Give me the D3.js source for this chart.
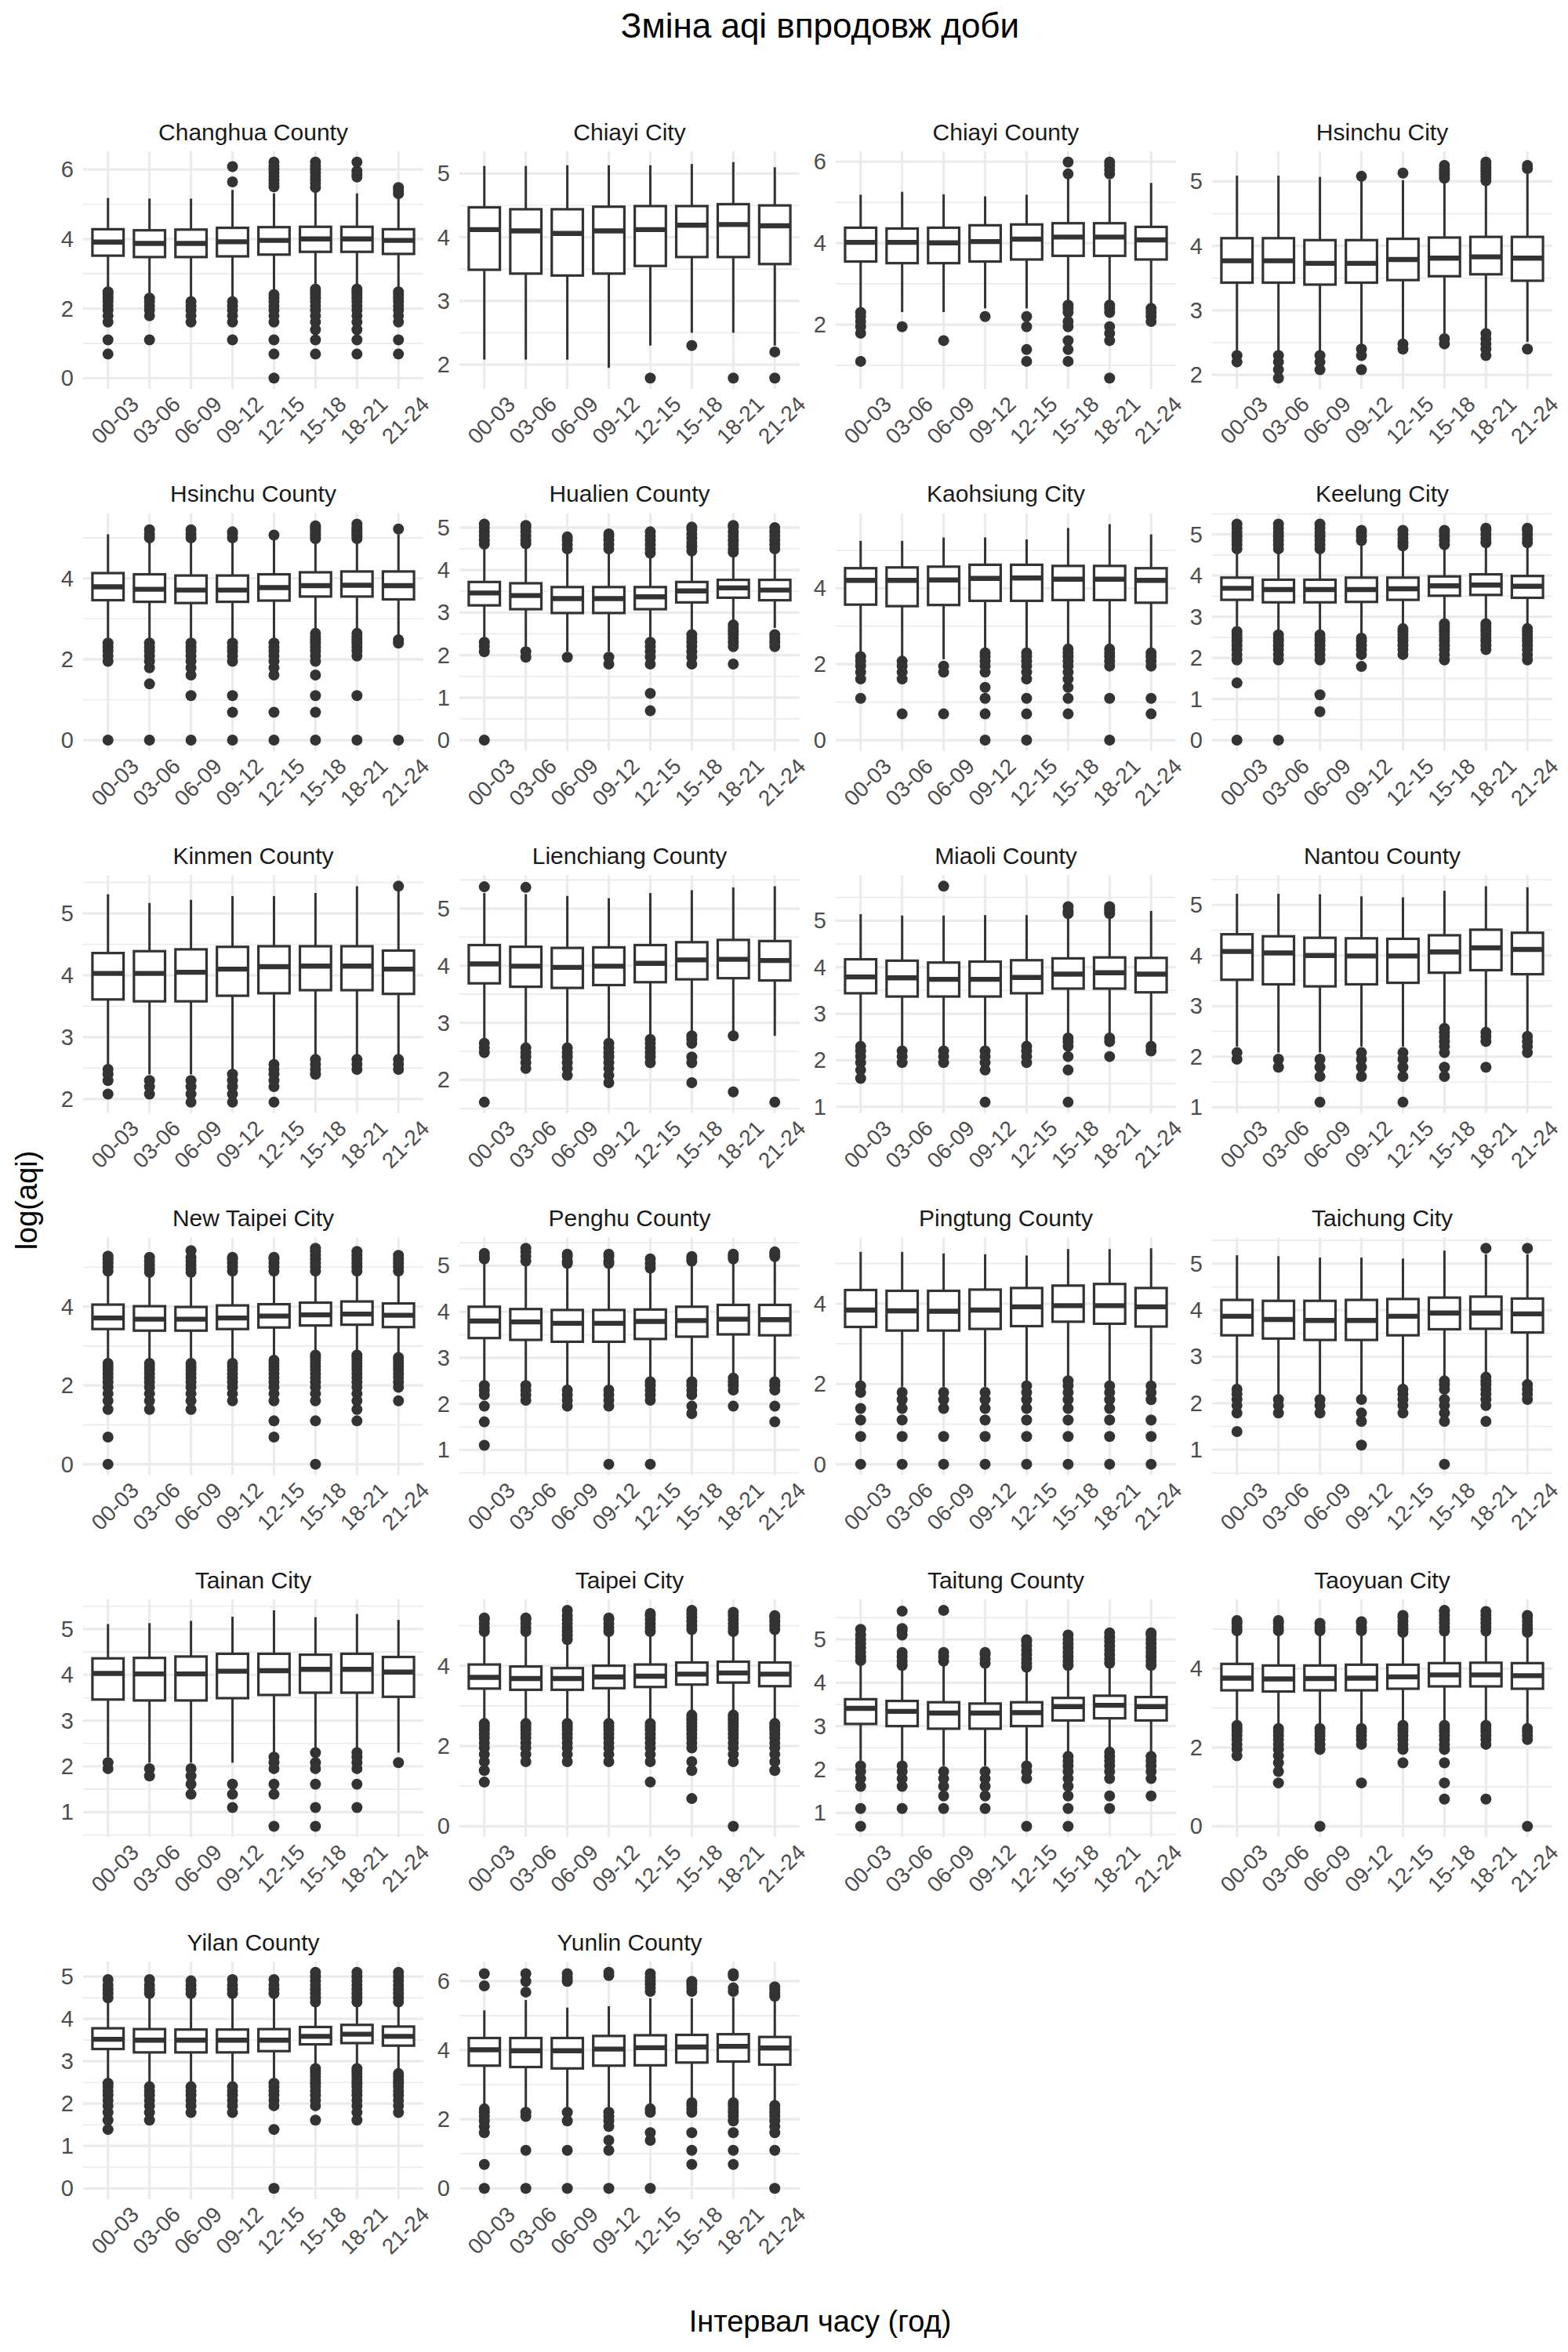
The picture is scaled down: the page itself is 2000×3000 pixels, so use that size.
<!DOCTYPE html>
<html>
<head>
<meta charset="utf-8">
<script src="https://cdn.jsdelivr.net/npm/d3@7"></script>
<style>
  html, body { margin: 0; padding: 0; background: #ffffff; }
</style>
</head>
<body>
<script>
// ---------------- DATA ----------------
const counties = ["Changhua County","Chiayi City","Chiayi County","Hsinchu City","Hsinchu County","Hualien County","Kaohsiung City","Keelung City","Kinmen County","Lienchiang County","Miaoli County","Nantou County","New Taipei City","Penghu County","Pingtung County","Taichung City","Tainan City","Taipei City","Taitung County","Taoyuan City","Yilan County","Yunlin County"];

const intervals = ["00-03","03-06","06-09","09-12","12-15","15-18","18-21","21-24"];

const q1 = [
  [3.52,3.48,3.48,3.50,3.55,3.63,3.63,3.57],
  [3.49,3.43,3.40,3.43,3.55,3.69,3.69,3.58],
  [3.55,3.51,3.51,3.55,3.60,3.69,3.69,3.60],
  [3.43,3.43,3.40,3.43,3.47,3.53,3.56,3.46],
  [3.46,3.42,3.39,3.42,3.45,3.55,3.55,3.48],
  [3.17,3.08,2.99,2.99,3.08,3.24,3.35,3.29],
  [3.57,3.53,3.56,3.67,3.67,3.69,3.69,3.62],
  [3.41,3.35,3.35,3.36,3.41,3.51,3.53,3.46],
  [3.61,3.58,3.58,3.67,3.71,3.76,3.76,3.70],
  [3.69,3.63,3.61,3.66,3.71,3.76,3.78,3.74],
  [3.44,3.37,3.37,3.37,3.44,3.54,3.54,3.46],
  [3.52,3.43,3.39,3.43,3.46,3.66,3.71,3.63],
  [3.43,3.39,3.39,3.43,3.47,3.52,3.54,3.48],
  [3.43,3.39,3.35,3.35,3.41,3.46,3.51,3.49],
  [3.42,3.33,3.33,3.37,3.44,3.55,3.50,3.43],
  [3.46,3.39,3.36,3.36,3.46,3.59,3.60,3.52],
  [3.46,3.44,3.44,3.49,3.56,3.61,3.61,3.52],
  [3.43,3.40,3.40,3.44,3.47,3.53,3.58,3.49],
  [3.05,3.00,2.94,2.94,3.00,3.13,3.18,3.13],
  [3.45,3.42,3.45,3.45,3.49,3.55,3.55,3.49],
  [3.29,3.21,3.21,3.21,3.24,3.40,3.43,3.37],
  [3.55,3.51,3.47,3.55,3.56,3.64,3.67,3.58]
];

const median = [
  [3.91,3.87,3.87,3.92,3.96,4.00,4.00,3.96],
  [4.12,4.10,4.06,4.10,4.12,4.19,4.20,4.18],
  [4.02,4.02,4.01,4.04,4.10,4.15,4.15,4.08],
  [3.77,3.77,3.73,3.73,3.79,3.81,3.83,3.81],
  [3.79,3.73,3.71,3.71,3.77,3.82,3.83,3.82],
  [3.46,3.40,3.33,3.33,3.37,3.51,3.58,3.53],
  [4.21,4.21,4.22,4.26,4.27,4.24,4.24,4.21],
  [3.69,3.66,3.66,3.66,3.68,3.75,3.77,3.74],
  [4.03,4.03,4.05,4.10,4.14,4.15,4.15,4.10],
  [4.03,3.99,3.97,3.99,4.04,4.10,4.11,4.09],
  [3.79,3.77,3.74,3.74,3.78,3.85,3.88,3.85],
  [4.08,4.05,4.00,3.99,3.99,4.07,4.15,4.12],
  [3.71,3.68,3.68,3.71,3.76,3.79,3.81,3.78],
  [3.80,3.78,3.75,3.75,3.79,3.81,3.84,3.83],
  [3.84,3.82,3.81,3.84,3.92,3.95,3.95,3.92],
  [3.87,3.80,3.78,3.78,3.87,3.94,3.94,3.92],
  [4.03,4.02,4.02,4.08,4.09,4.12,4.12,4.06],
  [3.71,3.68,3.68,3.72,3.74,3.79,3.82,3.79],
  [3.41,3.34,3.30,3.30,3.31,3.45,3.48,3.45],
  [3.76,3.74,3.75,3.76,3.79,3.84,3.84,3.82],
  [3.52,3.50,3.50,3.50,3.50,3.59,3.64,3.59],
  [4.01,3.98,3.98,4.03,4.07,4.09,4.11,4.06]
];

const q3 = [
  [4.28,4.25,4.27,4.32,4.34,4.35,4.35,4.28],
  [4.47,4.44,4.44,4.48,4.49,4.49,4.52,4.50],
  [4.38,4.36,4.38,4.44,4.46,4.49,4.49,4.40],
  [4.12,4.12,4.09,4.09,4.11,4.13,4.14,4.14],
  [4.13,4.10,4.07,4.07,4.10,4.15,4.17,4.17],
  [3.72,3.69,3.60,3.60,3.60,3.72,3.77,3.77],
  [4.53,4.55,4.57,4.62,4.62,4.59,4.59,4.53],
  [3.95,3.90,3.90,3.95,3.95,3.98,4.03,3.99],
  [4.36,4.39,4.42,4.46,4.47,4.47,4.47,4.40],
  [4.36,4.33,4.31,4.32,4.36,4.41,4.45,4.43],
  [4.17,4.14,4.10,4.12,4.15,4.19,4.21,4.20],
  [4.42,4.38,4.35,4.34,4.33,4.40,4.51,4.45],
  [4.05,4.01,3.99,4.03,4.06,4.10,4.13,4.08],
  [4.11,4.06,4.04,4.04,4.05,4.11,4.15,4.15],
  [4.34,4.32,4.32,4.35,4.39,4.45,4.49,4.39],
  [4.22,4.20,4.20,4.22,4.24,4.27,4.29,4.25],
  [4.36,4.37,4.40,4.46,4.46,4.44,4.46,4.39],
  [4.03,3.98,3.94,4.00,4.03,4.08,4.10,4.08],
  [3.62,3.58,3.55,3.52,3.55,3.65,3.70,3.67],
  [4.12,4.08,4.08,4.10,4.10,4.14,4.15,4.14],
  [3.78,3.76,3.75,3.75,3.76,3.81,3.86,3.82],
  [4.35,4.35,4.35,4.41,4.43,4.44,4.46,4.38]
];

const whiskerLow = [
  [2.56,2.40,2.35,2.30,2.48,2.64,2.64,2.56],
  [2.08,2.08,2.08,1.95,2.30,2.50,2.50,2.30],
  [2.40,2.31,2.31,2.40,2.40,2.56,2.56,2.48],
  [2.35,2.37,2.37,2.47,2.56,2.64,2.71,2.51],
  [2.48,2.48,2.48,2.48,2.48,2.71,2.71,2.56],
  [2.40,2.20,2.08,2.08,2.40,2.56,2.77,2.64],
  [2.30,2.09,2.13,2.34,2.34,2.44,2.44,2.30],
  [2.77,2.64,2.64,2.56,2.77,2.89,2.89,2.77],
  [2.56,2.40,2.40,2.48,2.64,2.71,2.71,2.71],
  [2.71,2.64,2.64,2.71,2.77,2.83,2.83,2.77],
  [2.40,2.30,2.30,2.30,2.40,2.56,2.56,2.40],
  [2.20,2.08,2.08,2.20,2.20,2.64,2.56,2.48],
  [2.64,2.64,2.64,2.64,2.71,2.83,2.89,2.77],
  [2.48,2.48,2.40,2.40,2.56,2.56,2.64,2.56],
  [2.06,1.93,1.93,1.93,2.06,2.19,2.06,2.06],
  [2.40,2.20,2.20,2.20,2.40,2.56,2.64,2.48],
  [2.20,2.08,2.08,2.08,2.30,2.40,2.40,2.30],
  [2.64,2.64,2.64,2.64,2.64,2.83,2.83,2.64],
  [2.20,2.20,2.08,2.08,2.20,2.40,2.48,2.40],
  [2.64,2.56,2.56,2.56,2.64,2.64,2.64,2.56],
  [2.56,2.48,2.48,2.48,2.56,2.89,2.89,2.77],
  [2.40,2.30,2.30,2.30,2.40,2.56,2.56,2.48]
];

const whiskerHigh = [
  [5.18,5.16,5.16,5.41,5.31,5.44,5.31,5.18],
  [5.12,5.12,5.13,5.13,5.13,5.15,5.18,5.10],
  [5.19,5.26,5.20,5.15,5.19,5.63,5.56,5.48],
  [5.09,5.09,5.07,5.02,5.02,5.00,4.97,5.12],
  [5.09,4.95,4.95,4.95,4.96,4.93,4.93,5.09],
  [4.54,4.56,4.47,4.47,4.36,4.42,4.39,4.47],
  [5.25,5.25,5.34,5.34,5.29,5.59,5.69,5.42],
  [4.61,4.60,4.60,4.80,4.66,4.70,4.75,4.75],
  [5.31,5.17,5.22,5.28,5.28,5.33,5.44,5.36],
  [5.27,5.25,5.22,5.18,5.27,5.32,5.37,5.39],
  [5.14,5.11,5.11,5.12,5.12,5.08,5.08,5.21],
  [5.22,5.22,5.21,5.17,5.15,5.28,5.37,5.35],
  [4.86,4.82,4.82,4.86,4.86,4.86,4.86,4.86],
  [5.10,5.05,5.00,5.00,4.90,5.05,5.10,5.15],
  [5.29,5.29,5.25,5.23,5.20,5.36,5.36,5.38],
  [5.18,5.16,5.13,5.13,5.11,5.28,5.20,5.20],
  [5.11,5.13,5.18,5.27,5.41,5.26,5.33,5.20],
  [4.80,4.80,4.60,4.80,4.80,4.85,4.80,4.85],
  [4.46,4.35,4.45,4.40,4.33,4.35,4.40,4.35],
  [4.93,4.90,4.90,4.90,4.88,4.90,4.90,4.88],
  [4.44,4.50,4.50,4.50,4.50,4.35,4.35,4.35],
  [5.15,5.45,5.23,5.27,5.50,5.50,5.53,5.41]
];

const outliers = [
  [ // Changhua County
    [2.48,2.40,2.30,2.20,2.08,1.95,1.79,1.61,1.10,0.69],
    [2.30,2.20,2.08,1.95,1.79,1.10],
    [2.20,2.08,1.95,1.79,1.61],
    [5.64,6.08,2.20,2.08,1.95,1.79,1.61,1.10],
    [5.50,5.60,5.70,5.80,5.90,6.00,6.10,6.21,2.40,2.30,2.20,2.08,1.95,1.79,1.61,1.10,0.69,0],
    [5.48,5.60,5.70,5.80,5.90,6.00,6.10,6.21,2.56,2.48,2.40,2.30,2.20,2.08,1.95,1.79,1.61,1.39,1.10,0.69],
    [5.78,5.85,5.95,6.21,2.56,2.48,2.40,2.30,2.20,2.08,1.95,1.79,1.61,1.39,1.10,0.69],
    [5.30,5.40,5.48,2.48,2.40,2.30,2.20,2.08,1.95,1.79,1.61,1.10,0.69]
  ],
  [ // Chiayi City
    [],[],[],[],[1.79],[2.30],[1.79],[2.20,1.79]
  ],
  [ // Chiayi County
    [2.30,2.20,2.08,1.95,1.79,1.10],
    [1.95],
    [1.61],
    [2.20],
    [2.20,1.95,1.39,1.10],
    [5.70,5.99,2.48,2.40,2.30,2.08,1.95,1.61,1.39,1.10],
    [5.70,5.80,5.90,5.99,2.48,2.40,2.30,1.95,1.79,1.61,0.69],
    [2.40,2.30,2.20,2.08]
  ],
  [ // Hsinchu City
    [2.30,2.20],
    [2.30,2.20,2.08,1.95],
    [2.30,2.20,2.08],
    [5.08,2.40,2.30,2.08],
    [5.13,2.48,2.40],
    [5.05,5.10,5.15,5.20,5.25,2.56,2.48],
    [5.01,5.06,5.11,5.16,5.21,5.26,5.30,2.64,2.56,2.48,2.40,2.30],
    [5.20,5.25,2.40]
  ],
  [ // Hsinchu County
    [2.40,2.30,2.20,2.08,1.95,0],
    [5.00,5.10,5.20,2.40,2.30,2.20,2.08,1.95,1.79,1.39,0],
    [5.00,5.10,5.20,2.40,2.30,2.20,2.08,1.95,1.79,1.61,1.10,0],
    [5.00,5.10,5.15,2.40,2.30,2.20,2.08,1.95,1.10,0.69,0],
    [5.07,2.40,2.30,2.20,2.08,1.95,1.79,1.61,0.69,0],
    [4.98,5.05,5.10,5.15,5.20,5.25,5.30,2.64,2.56,2.48,2.40,2.30,2.20,2.08,1.95,1.61,1.10,0.69,0],
    [4.98,5.05,5.10,5.15,5.20,5.25,5.34,2.64,2.56,2.48,2.40,2.30,2.20,2.08,1.10,0],
    [5.22,2.48,2.40,0]
  ],
  [ // Hualien County
    [4.61,4.70,4.80,4.90,5.00,5.08,2.30,2.20,2.08,0],
    [4.62,4.70,4.80,4.90,5.00,5.05,2.08,1.95],
    [4.50,4.60,4.70,4.78,1.95],
    [4.50,4.60,4.70,4.80,4.85,1.95,1.79],
    [4.40,4.50,4.60,4.70,4.80,4.90,2.30,2.20,2.08,1.95,1.79,1.10,0.69],
    [4.45,4.55,4.65,4.75,4.85,4.95,5.01,2.48,2.40,2.30,2.20,2.08,1.95,1.79],
    [4.42,4.50,4.60,4.70,4.80,4.90,5.01,5.05,2.71,2.64,2.56,2.48,2.40,2.30,2.20,1.79],
    [4.50,4.60,4.70,4.80,4.90,5.00,2.48,2.40,2.30,2.20]
  ],
  [ // Kaohsiung City
    [2.20,2.08,1.95,1.79,1.61,1.10],
    [2.08,1.95,1.79,1.61,0.69],
    [1.95,1.79,0.69],
    [2.30,2.20,2.08,1.95,1.79,1.39,1.10,0.69,0],
    [2.30,2.20,2.08,1.95,1.79,1.61,1.10,0.69,0],
    [2.40,2.30,2.20,2.08,1.95,1.79,1.61,1.39,1.10,0.69],
    [2.40,2.30,2.20,2.08,1.95,1.10,0],
    [2.30,2.20,2.08,1.95,1.10,0.69]
  ],
  [ // Keelung City
    [4.65,4.75,4.85,4.95,5.05,5.15,5.25,2.64,2.56,2.48,2.40,2.30,2.20,2.08,1.95,1.39,0],
    [4.65,4.75,4.85,4.95,5.05,5.15,5.25,2.56,2.48,2.40,2.30,2.20,2.08,1.95,0],
    [4.65,4.75,4.85,4.95,5.05,5.15,5.25,2.56,2.48,2.40,2.30,2.20,2.08,1.95,1.10,0.69],
    [4.85,4.95,5.05,5.10,2.48,2.40,2.30,2.20,2.08,1.79],
    [4.72,4.80,4.90,5.00,5.10,2.71,2.64,2.56,2.48,2.40,2.30,2.20,2.08],
    [4.75,4.85,4.95,5.05,5.10,2.83,2.77,2.71,2.64,2.56,2.48,2.40,2.30,2.20,2.08,1.95],
    [4.80,4.90,5.00,5.10,5.15,2.83,2.77,2.71,2.64,2.56,2.48,2.40,2.30,2.20],
    [4.80,4.90,5.00,5.10,5.15,2.71,2.64,2.56,2.48,2.40,2.30,2.20,2.08,1.95]
  ],
  [ // Kinmen County
    [2.48,2.40,2.30,2.08],
    [2.30,2.20,2.08],
    [2.30,2.20,2.08,1.95],
    [2.40,2.30,2.20,2.08,1.95],
    [2.56,2.48,2.40,2.30,2.20,1.95],
    [2.64,2.56,2.48,2.40],
    [2.64,2.56,2.48],
    [5.44,2.64,2.56,2.48]
  ],
  [ // Lienchiang County
    [5.38,2.64,2.56,2.48,1.61],
    [5.37,2.56,2.48,2.40,2.30,2.20],
    [2.56,2.48,2.40,2.30,2.20,2.08],
    [2.64,2.56,2.48,2.40,2.30,2.20,2.08,1.95],
    [2.71,2.64,2.56,2.48,2.40,2.30],
    [2.77,2.71,2.64,2.40,2.30,1.95],
    [2.77,1.79],
    [1.61]
  ],
  [ // Miaoli County
    [2.30,2.20,2.08,1.95,1.79,1.61],
    [2.20,2.08,1.95],
    [5.74,2.20,2.08,1.95],
    [2.20,2.08,1.95,1.79,1.10],
    [2.30,2.20,2.08,1.95],
    [5.15,5.20,5.30,2.48,2.40,2.30,2.08,1.79,1.10],
    [5.15,5.20,5.25,5.30,2.48,2.40,2.08],
    [2.30,2.20]
  ],
  [ // Nantou County
    [2.08,1.95],
    [1.95,1.79],
    [1.95,1.79,1.61,1.10],
    [2.08,1.95,1.79,1.61],
    [2.08,1.95,1.79,1.61,1.10],
    [2.56,2.48,2.40,2.30,2.20,2.08,1.79,1.61],
    [2.48,2.40,2.30,1.79],
    [2.40,2.30,2.20,2.08]
  ],
  [ // New Taipei City
    [4.90,5.00,5.10,5.20,5.28,2.56,2.48,2.40,2.30,2.20,2.08,1.95,1.79,1.61,1.39,0.69,0],
    [4.87,4.95,5.05,5.15,5.25,2.56,2.48,2.40,2.30,2.20,2.08,1.95,1.79,1.61,1.39],
    [4.87,4.95,5.05,5.15,5.25,5.42,2.56,2.48,2.40,2.30,2.20,2.08,1.95,1.79,1.61,1.39],
    [4.90,5.00,5.10,5.20,5.25,2.56,2.48,2.40,2.30,2.20,2.08,1.95,1.79,1.61],
    [4.90,5.00,5.10,5.20,5.25,2.64,2.56,2.48,2.40,2.30,2.20,2.08,1.95,1.79,1.61,1.10,0.69],
    [4.90,5.00,5.10,5.20,5.30,5.40,5.48,2.77,2.71,2.64,2.56,2.48,2.40,2.30,2.20,2.08,1.95,1.79,1.61,1.10,0],
    [4.90,5.00,5.10,5.20,5.30,5.40,2.77,2.71,2.64,2.56,2.48,2.40,2.30,2.20,2.08,1.95,1.79,1.61,1.39,1.10],
    [4.90,5.00,5.10,5.20,5.30,2.71,2.64,2.56,2.48,2.40,2.30,2.20,2.08,1.95,1.61]
  ],
  [ // Penghu County
    [5.15,5.20,5.27,2.40,2.30,2.20,1.95,1.61,1.10],
    [5.10,5.20,5.30,5.38,2.40,2.30,2.20,2.08],
    [5.05,5.10,5.20,5.25,2.30,2.20,2.08,1.95],
    [5.05,5.10,5.20,5.25,2.30,2.20,2.08,1.95,0.69],
    [4.95,5.05,5.15,2.48,2.40,2.30,2.20,2.08,0.69],
    [5.10,5.15,5.20,2.48,2.40,2.30,2.20,1.95,1.79],
    [5.15,5.20,5.25,2.56,2.48,2.40,2.30,1.95],
    [5.20,5.25,5.30,2.48,2.40,2.30,1.95,1.61]
  ],
  [ // Pingtung County
    [1.95,1.79,1.39,1.10,0.69,0],
    [1.79,1.61,1.39,1.10,0.69,0],
    [1.79,1.61,1.39,0.69,0],
    [1.79,1.61,1.39,1.10,0.69,0],
    [1.95,1.79,1.61,1.39,1.10,0.69,0],
    [2.08,1.95,1.79,1.61,1.39,1.10,0.69,0],
    [1.95,1.79,1.61,1.39,1.10,0.69,0],
    [1.95,1.79,1.61,1.10,0.69,0]
  ],
  [ // Taichung City
    [2.30,2.20,2.08,1.95,1.79,1.39],
    [2.08,1.95,1.79],
    [2.08,1.95,1.79],
    [2.08,1.79,1.61,1.10],
    [2.30,2.20,2.08,1.95,1.79],
    [2.48,2.40,2.30,2.08,1.95,1.79,1.61,0.69],
    [5.33,2.56,2.48,2.40,2.30,2.20,2.08,1.95,1.61],
    [5.33,2.40,2.30,2.20,2.08]
  ],
  [ // Tainan City
    [2.08,1.95],
    [1.95,1.79],
    [1.95,1.79,1.61,1.39],
    [1.61,1.39,1.10],
    [2.20,2.08,1.95,1.61,1.39,0.69],
    [2.30,2.08,1.95,1.61,1.10,0.69],
    [2.30,2.20,2.08,1.95,1.61,1.10],
    [2.08]
  ],
  [ // Taipei City
    [4.85,4.95,5.05,5.15,5.19,2.56,2.48,2.40,2.30,2.20,2.08,1.95,1.79,1.61,1.39,1.10],
    [4.85,4.95,5.05,5.15,5.19,2.56,2.48,2.40,2.30,2.20,2.08,1.95,1.79,1.61],
    [4.65,4.75,4.85,4.95,5.05,5.15,5.25,5.38,2.56,2.48,2.40,2.30,2.20,2.08,1.95,1.79,1.61],
    [4.85,4.95,5.05,5.15,5.19,2.56,2.48,2.40,2.30,2.20,2.08,1.95,1.79,1.61],
    [4.85,4.95,5.05,5.15,5.25,5.30,2.56,2.48,2.40,2.30,2.20,2.08,1.95,1.79,1.61,1.10],
    [4.90,5.00,5.10,5.20,5.30,5.38,2.77,2.71,2.64,2.56,2.48,2.40,2.30,2.20,2.08,1.95,1.61,1.39,0.69],
    [4.85,4.95,5.05,5.15,5.25,5.33,2.77,2.71,2.64,2.56,2.48,2.40,2.30,2.20,2.08,1.95,1.79,1.61,0],
    [4.90,5.00,5.10,5.20,5.25,2.56,2.48,2.40,2.30,2.20,2.08,1.95,1.79,1.61,1.39]
  ],
  [ // Taitung County
    [4.51,4.60,4.70,4.80,4.90,5.00,5.10,5.23,2.08,1.95,1.79,1.61,1.10,0.69],
    [4.40,4.50,4.60,4.70,5.10,5.20,5.25,5.65,2.08,1.95,1.79,1.61,1.10],
    [4.50,4.60,4.70,5.67,1.95,1.79,1.61,1.39,1.10],
    [4.45,4.55,4.65,4.70,1.95,1.79,1.61,1.39,1.10],
    [4.36,4.45,4.55,4.65,4.75,4.85,4.95,4.99,2.08,1.95,1.79,0.69],
    [4.40,4.50,4.60,4.70,4.80,4.90,5.00,5.10,2.30,2.20,2.08,1.95,1.79,1.61,1.39,1.10,0.69],
    [4.45,4.55,4.65,4.75,4.85,4.95,5.05,5.15,2.40,2.30,2.20,2.08,1.95,1.79,1.39,1.10],
    [4.40,4.50,4.60,4.70,4.80,4.90,5.00,5.10,5.15,2.30,2.20,2.08,1.95,1.79,1.39]
  ],
  [ // Taoyuan City
    [4.96,5.05,5.15,5.22,2.56,2.48,2.40,2.30,2.20,2.08,1.95,1.79],
    [4.96,5.05,5.15,5.22,2.48,2.40,2.30,2.20,2.08,1.95,1.79,1.61,1.39,1.10],
    [4.96,5.05,5.15,2.48,2.40,2.30,2.20,2.08,1.95,0],
    [4.96,5.05,5.15,5.19,2.48,2.40,2.30,2.20,2.08,1.10],
    [4.92,5.00,5.10,5.20,5.30,5.35,2.56,2.48,2.40,2.30,2.20,2.08,1.95,1.61],
    [4.95,5.05,5.15,5.25,5.35,5.45,5.48,2.56,2.48,2.40,2.30,2.20,2.08,1.95,1.61,1.10,0.69],
    [4.95,5.05,5.15,5.25,5.35,5.45,2.56,2.48,2.40,2.30,2.20,2.08,0.69],
    [4.92,5.00,5.10,5.20,5.30,5.35,2.48,2.40,2.30,2.20,0]
  ],
  [ // Yilan County
    [4.50,4.60,4.70,4.80,4.93,2.48,2.40,2.30,2.20,2.08,1.95,1.79,1.61,1.39],
    [4.60,4.70,4.80,4.93,2.40,2.30,2.20,2.08,1.95,1.79,1.61],
    [4.60,4.70,4.80,4.90,2.40,2.30,2.20,2.08,1.95,1.79],
    [4.60,4.70,4.80,4.93,2.40,2.30,2.20,2.08,1.95,1.79],
    [4.60,4.70,4.80,4.93,2.48,2.40,2.30,2.20,2.08,1.95,1.39,0],
    [4.40,4.50,4.60,4.70,4.80,4.90,5.00,5.10,2.83,2.77,2.71,2.64,2.56,2.48,2.40,2.30,2.20,2.08,1.95,1.61],
    [4.40,4.50,4.60,4.70,4.80,4.90,5.00,5.10,2.83,2.77,2.71,2.64,2.56,2.48,2.40,2.30,2.20,2.08,1.95,1.79,1.61],
    [4.40,4.50,4.60,4.70,4.80,4.90,5.00,5.10,2.71,2.64,2.56,2.48,2.40,2.30,2.20,2.08,1.95,1.79]
  ],
  [ // Yunlin County
    [5.86,6.21,2.30,2.20,2.08,1.95,1.79,1.61,0.69,0],
    [5.68,5.99,6.21,2.20,2.08,1.10,0],
    [5.99,6.10,6.21,2.20,1.95,1.10,0],
    [6.16,6.25,2.20,2.08,1.95,1.79,1.39,1.10,0],
    [5.70,5.80,5.90,6.00,6.10,6.21,2.30,2.20,1.61,1.39,0],
    [5.70,5.80,5.90,5.99,2.48,2.40,2.30,2.20,1.61,1.10,0.69],
    [5.70,5.80,6.15,6.21,2.48,2.40,2.30,2.20,2.08,1.95,1.61,1.10,0.69],
    [5.56,5.65,5.75,5.83,2.40,2.30,2.20,2.08,1.95,1.79,1.61,1.10,0]
  ]
];

const yBreaks = [
  [0,2,4,6],[2,3,4,5],[2,4,6],[2,3,4,5],
  [0,2,4],[0,1,2,3,4,5],[0,2,4],[0,1,2,3,4,5],
  [2,3,4,5],[2,3,4,5],[1,2,3,4,5],[1,2,3,4,5],
  [0,2,4],[1,2,3,4,5],[0,2,4],[1,2,3,4,5],
  [1,2,3,4,5],[0,2,4],[1,2,3,4,5],[0,2,4],
  [0,1,2,3,4,5],[0,2,4,6]
];

const titleText = "Зміна aqi впродовж доби";
const xTitleText = "Інтервал часу (год)";
const yTitleText = "log(aqi)";

// ---------------- LAYOUT ----------------
const W = 2000, H = 3000;
const FONT = "'Liberation Sans', Arial, Helvetica, sans-serif";
const panelW = 434, panelH = 303;
const panelX0 = 106, colStep = 480;
const panelY0 = 193, rowStep = 461.8;
const INK = "#333333", GRID = "#EBEBEB", AXTXT = "#4D4D4D";

const svg = d3.select("body").append("svg")
  .attr("width", W).attr("height", H)
  .attr("xmlns", "http://www.w3.org/2000/svg");
svg.append("rect").attr("width", W).attr("height", H).attr("fill", "#ffffff");

counties.forEach((name, i) => {
  const col = i % 4, row = Math.floor(i / 4);
  const px = panelX0 + col * colStep;
  const py = panelY0 + row * rowStep;

  const all = [...whiskerLow[i], ...whiskerHigh[i], ...outliers[i].flat()];
  const lo = d3.min(all), hi = d3.max(all), pad = (hi - lo) * 0.05;
  const dom = [lo - pad, hi + pad];

  const x = d3.scalePoint().domain(intervals).range([px, px + panelW]).padding(0.6);
  const y = d3.scaleLinear().domain(dom).range([py + panelH, py]);

  const g = svg.append("g").attr("class", "panel");

  // minor horizontal grid
  const br = yBreaks[i];
  const step = br[1] - br[0];
  const minors = [];
  for (let v = br[0] - step * 1.5; v <= dom[1]; v += step) {
    if (v >= dom[0]) minors.push(v);
  }
  g.selectAll(".minor").data(minors).join("line")
    .attr("x1", px).attr("x2", px + panelW)
    .attr("y1", d => y(d)).attr("y2", d => y(d))
    .attr("stroke", GRID).attr("stroke-width", 1.6);

  // major horizontal grid
  g.selectAll(".major").data(br).join("line")
    .attr("x1", px).attr("x2", px + panelW)
    .attr("y1", d => y(d)).attr("y2", d => y(d))
    .attr("stroke", GRID).attr("stroke-width", 3.2);

  // vertical grid
  g.selectAll(".vgrid").data(intervals).join("line")
    .attr("x1", d => x(d)).attr("x2", d => x(d))
    .attr("y1", py).attr("y2", py + panelH)
    .attr("stroke", GRID).attr("stroke-width", 3.2);

  const bw = x.step() * 0.75;

  intervals.forEach((iv, j) => {
    const cx = x(iv);
    // whiskers
    g.append("line").attr("x1", cx).attr("x2", cx)
      .attr("y1", y(q3[i][j])).attr("y2", y(whiskerHigh[i][j]))
      .attr("stroke", INK).attr("stroke-width", 3);
    g.append("line").attr("x1", cx).attr("x2", cx)
      .attr("y1", y(q1[i][j])).attr("y2", y(whiskerLow[i][j]))
      .attr("stroke", INK).attr("stroke-width", 3);
    // box
    g.append("rect")
      .attr("x", cx - bw / 2).attr("width", bw)
      .attr("y", y(q3[i][j])).attr("height", y(q1[i][j]) - y(q3[i][j]))
      .attr("fill", "#ffffff").attr("stroke", INK).attr("stroke-width", 3.2);
    // median
    g.append("line")
      .attr("x1", cx - bw / 2).attr("x2", cx + bw / 2)
      .attr("y1", y(median[i][j])).attr("y2", y(median[i][j]))
      .attr("stroke", INK).attr("stroke-width", 6.4);
    // outliers
    g.selectAll(null).data(outliers[i][j]).join("circle")
      .attr("cx", cx).attr("cy", d => y(d)).attr("r", 7)
      .attr("fill", INK);
  });

  // y axis labels
  g.selectAll(".ylab").data(br).join("text")
    .attr("x", px - 12).attr("y", d => y(d))
    .attr("text-anchor", "end").attr("dominant-baseline", "central")
    .attr("font-family", FONT).attr("font-size", 29).attr("fill", AXTXT)
    .text(d => d3.format("d")(d));

  // x axis labels (rotated 45)
  g.selectAll(".xlab").data(intervals).join("text")
    .attr("transform", d => `translate(${x(d) + 9},${py + panelH + 40}) rotate(-45)`)
    .attr("text-anchor", "middle").attr("dominant-baseline", "central")
    .attr("font-family", FONT).attr("font-size", 28).attr("fill", AXTXT)
    .text(d => d);

  // strip title
  g.append("text")
    .attr("x", px + panelW / 2).attr("y", py - 25)
    .attr("text-anchor", "middle").attr("dominant-baseline", "central")
    .attr("font-family", FONT).attr("font-size", 30).attr("fill", "#1A1A1A")
    .text(name);
});

// titles
svg.append("text")
  .attr("x", 1046).attr("y", 48)
  .attr("text-anchor", "middle")
  .attr("font-family", FONT).attr("font-size", 44).attr("fill", "#000000")
  .text(titleText);

svg.append("text")
  .attr("x", 1046).attr("y", 2961)
  .attr("text-anchor", "middle").attr("dominant-baseline", "central")
  .attr("font-family", FONT).attr("font-size", 38).attr("fill", "#000000")
  .text(xTitleText);

svg.append("text")
  .attr("transform", "translate(34,1531) rotate(-90)")
  .attr("text-anchor", "middle").attr("dominant-baseline", "central")
  .attr("font-family", FONT).attr("font-size", 38).attr("fill", "#000000")
  .text(yTitleText);
</script>
</body>
</html>
